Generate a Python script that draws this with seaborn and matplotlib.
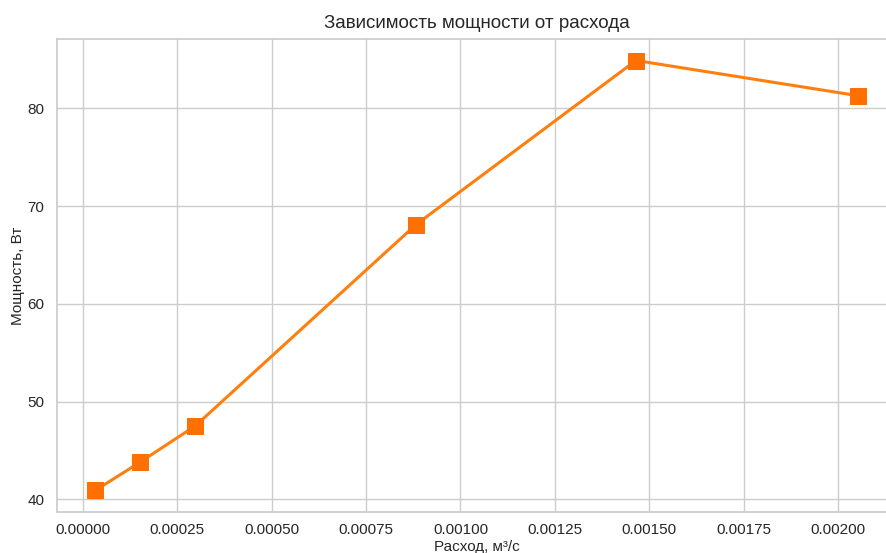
import matplotlib
matplotlib.use("Agg")
import matplotlib.pyplot as plt
import seaborn as sns
import pandas as pd

# Measured flow rate (m³/s) and power (W)
flow = [0.000032, 0.000151, 0.000297, 0.000882, 0.001465, 0.002053]
power = [40.9, 43.8, 47.5, 68.1, 84.9, 81.3]

df = pd.DataFrame({"flow": flow, "power": power})

sns.set_theme(style="whitegrid")
plt.rcParams["font.family"] = ["Liberation Sans", "DejaVu Sans"]

fig = plt.figure(figsize=(8.86, 5.53), dpi=100)
ax = fig.add_axes([57 / 886, 41 / 553, 839 / 886, 473 / 553])

sns.lineplot(
    data=df, x="flow", y="power", ax=ax,
    color="#ff7f0e", linewidth=2.2,
    marker="s", markersize=11,
    markerfacecolor="#ff7000", markeredgecolor="#ff7000",
)

ax.set_title("Зависимость мощности от расхода", fontsize=13.5, pad=8)
ax.set_xlabel("Расход, м³/с", fontsize=11, labelpad=2)
ax.set_ylabel("Мощность, Вт", fontsize=11, labelpad=2)
ax.tick_params(axis="x", labelsize=11, pad=2)
ax.tick_params(axis="y", labelsize=11, pad=3)
ax.set_xticks([0, 0.00025, 0.0005, 0.00075, 0.001, 0.00125, 0.0015, 0.00175, 0.002])
ax.set_xticklabels(["0.00000", "0.00025", "0.00050", "0.00075", "0.00100",
                    "0.00125", "0.00150", "0.00175", "0.00200"])
ax.set_yticks([40, 50, 60, 70, 80])

fig.savefig("out.png", dpi=100)
